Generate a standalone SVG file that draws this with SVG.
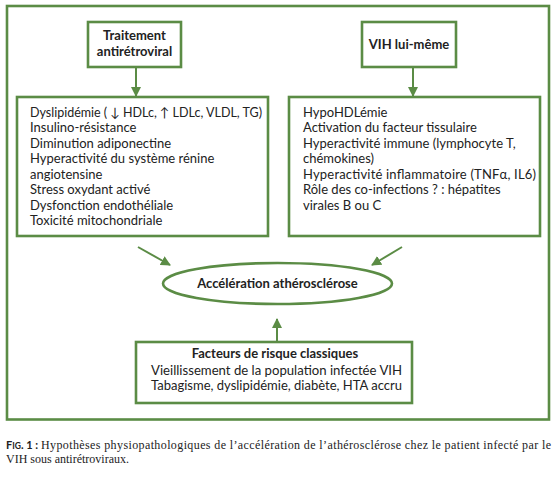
<svg xmlns="http://www.w3.org/2000/svg" width="556" height="483" viewBox="0 0 556 483">
<defs>
<style>
.frame{fill:none;stroke:#5b8c45;stroke-width:2.6}
.box{fill:#fff;stroke:#5b8c45;stroke-width:2.6}
.conn{stroke:#5b8c45;stroke-width:2;fill:none}
.t{font-family:Lato,"Liberation Sans",Arial,sans-serif;font-size:13px;fill:#222}
.b{font-weight:bold}
.cap{font-family:"Liberation Serif","Times New Roman",serif;font-size:12px;fill:#222}
.capb{font-family:Lato,"Liberation Sans",Arial,sans-serif;font-size:11px;font-weight:bold;fill:#222}
</style>
<marker id="ah" markerWidth="10" markerHeight="10" refX="9" refY="5" orient="auto" markerUnits="userSpaceOnUse">
<path d="M0,0 L10,5 L0,10 z" fill="#5b8c45"/>
</marker>
</defs>
<rect width="556" height="483" fill="#fff"/>
<rect class="frame" x="7" y="6" width="542" height="413.5"/>

<g id="connectors">
<line class="conn" x1="136" y1="67" x2="136" y2="96" marker-end="url(#ah)"/>
<line class="conn" x1="413" y1="67" x2="413" y2="96" marker-end="url(#ah)"/>
<line class="conn" x1="138" y1="247" x2="170" y2="265" marker-end="url(#ah)"/>
<line class="conn" x1="402" y1="247" x2="372" y2="265" marker-end="url(#ah)"/>
<line class="conn" x1="277" y1="341" x2="277" y2="319" marker-end="url(#ah)"/>
</g>

<g id="traitement">
<rect class="box" x="88" y="22" width="93" height="45"/>
<text class="t b" x="134.5" y="40" text-anchor="middle">Traitement</text>
<text class="t b" x="134.5" y="56" text-anchor="middle">antirétroviral</text>
</g>

<g id="vih">
<rect class="box" x="362" y="22" width="94" height="45"/>
<text class="t b" x="409" y="49" text-anchor="middle">VIH lui-même</text>
</g>

<g id="effets-traitement">
<rect class="box" x="17" y="97" width="251" height="139"/>
<text class="t" x="30" y="116.5" textLength="232" lengthAdjust="spacingAndGlyphs">Dyslipidémie ( ↓ HDLc, ↑ LDLc, VLDL, TG)</text>
<text class="t" x="30" y="132">Insulino-résistance</text>
<text class="t" x="30" y="147.5">Diminution adiponectine</text>
<text class="t" x="30" y="163">Hyperactivité du système rénine</text>
<text class="t" x="30" y="178.5">angiotensine</text>
<text class="t" x="30" y="194">Stress oxydant activé</text>
<text class="t" x="30" y="209.5">Dysfonction endothéliale</text>
<text class="t" x="30" y="225">Toxicité mitochondriale</text>
</g>

<g id="effets-vih">
<rect class="box" x="289" y="97" width="251" height="139"/>
<text class="t" x="303" y="116.5">HypoHDLémie</text>
<text class="t" x="303" y="132">Activation du facteur tissulaire</text>
<text class="t" x="303" y="147.5">Hyperactivité immune (lymphocyte T,</text>
<text class="t" x="303" y="163">chémokines)</text>
<text class="t" x="303" y="178.5" textLength="233" lengthAdjust="spacing">Hyperactivité inflammatoire (TNFα, IL6)</text>
<text class="t" x="303" y="194">Rôle des co-infections ? : hépatites</text>
<text class="t" x="303" y="209.5">virales B ou C</text>
</g>

<g id="acceleration">
<ellipse class="box" cx="277.5" cy="283.5" rx="114.5" ry="20.5" stroke-width="2"/>
<text class="t b" x="277.5" y="288" text-anchor="middle">Accélération athérosclérose</text>
</g>

<g id="facteurs">
<rect class="box" x="136" y="342" width="276" height="61"/>
<text class="t b" x="275" y="358" text-anchor="middle">Facteurs de risque classiques</text>
<text class="t" x="151" y="375" textLength="251" lengthAdjust="spacingAndGlyphs">Vieillissement de la population infectée VIH</text>
<text class="t" x="151" y="390" textLength="251" lengthAdjust="spacingAndGlyphs">Tabagisme, dyslipidémie, diabète, HTA accru</text>
</g>

<g id="caption">
<text class="capb" x="6" y="449">F<tspan font-size="8.5px">IG</tspan>. 1 :</text>
<text class="cap" x="41" y="449" textLength="510" lengthAdjust="spacing">Hypothèses physiopathologiques de l’accélération de l’athérosclérose chez le patient infecté par le</text>
<text class="cap" x="6" y="463">VIH sous antirétroviraux.</text>
</g>
</svg>
